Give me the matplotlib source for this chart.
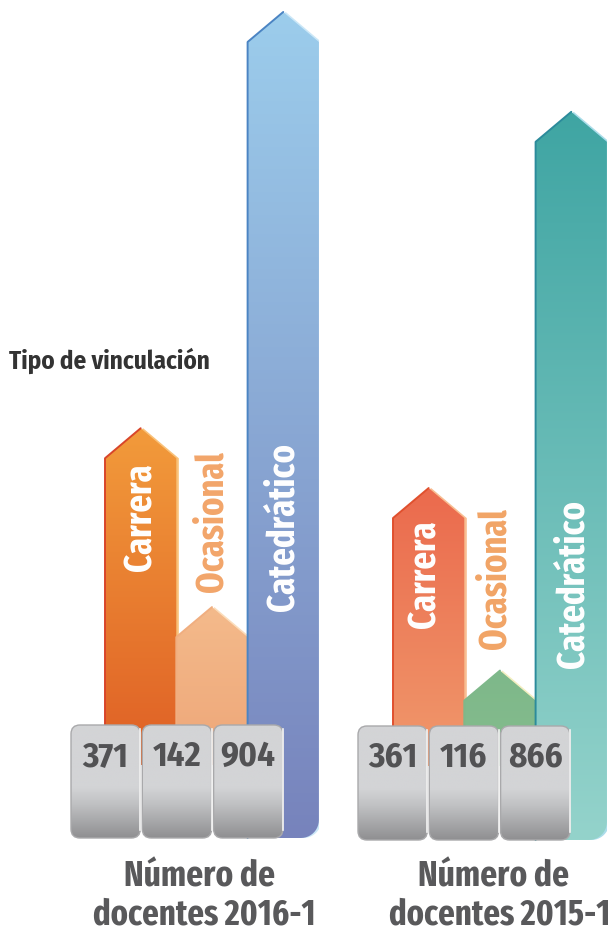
import numpy as np
import matplotlib
matplotlib.use("Agg")
import matplotlib.pyplot as plt
from matplotlib.patches import Polygon, FancyBboxPatch
from matplotlib.colors import LinearSegmentedColormap

# data
categories = ["Carrera", "Ocasional", "Catedrático"]
docentes_2016 = [371, 142, 904]
docentes_2015 = [361, 116, 866]
titles = ["Número de", "docentes 2016-1", "docentes 2015-1"]
legend_title = "Tipo de vinculación"

FONT = ["Fira Sans Extra Condensed", "DejaVu Sans"]
FONT_C = ["Fira Sans Condensed", "DejaVu Sans"]
W, H = 611, 933

fig = plt.figure(figsize=(W / 100, H / 100), dpi=100)

# overlay in pixel coords for tabs and texts
ov = fig.add_axes([0, 0, 1, 1], zorder=5)
ov.set_xlim(0, W)
ov.set_ylim(H, 0)
ov.axis("off")
ov.patch.set_alpha(0)


def grad(ax, patch, x0, x1, y0, y1, stops):
    # y0 = bottom, y1 = top; stops listed bottom -> top
    cmap = LinearSegmentedColormap.from_list("g", stops)
    im = ax.imshow(np.linspace(0, 1, 256).reshape(-1, 1), extent=[x0, x1, y0, y1],
                   origin="lower", cmap=cmap, aspect="auto", zorder=patch.get_zorder())
    im.set_clip_path(patch)


def panel(left_px, bw, base_px, scale, tab_top, tab_bot, values, styles):
    ax = fig.add_axes([(left_px - 0.5 * bw) / W, 0, 3.5 * bw / W, 1], zorder=1)
    ax.axis("off")
    ax.patch.set_alpha(0)
    px = lambda p: (base_px - p) / scale   # pixel row -> value
    head = 30 / scale
    for i, v in enumerate(values):
        st = styles[i]
        x0, x1 = i, i + 1
        if i == 2:
            # tall bar runs behind the tabs, rounded bottom-right corner
            ybot = px(tab_bot)
            rx, ry = 18 / bw, 18 / scale
            t = np.linspace(0, np.pi / 2, 12)
            pts = [(x0, ybot)]
            pts += [(x1 - rx + rx * np.sin(a), ybot + ry - ry * np.cos(a)) for a in t]
        else:
            ybot = px(tab_top + 40)
            pts = [(x0, ybot), (x1, ybot)]
        shoulder = v - head
        pts += [(x1, shoulder), (x0 + 0.5, v), (x0, shoulder)]
        hl = Polygon([(x + 2.5 / bw, y) for x, y in pts], closed=True, fc=st["hl"],
                     ec="none", zorder=2 + i)
        ax.add_patch(hl)
        poly = Polygon(pts, closed=True, fc="none", ec="none", zorder=2.1 + i)
        ax.add_patch(poly)
        grad(ax, poly, x0, x1, ybot, v, [st["bot"], st["top"]])
        ax.plot([x0, x0, x0 + 0.5], [ybot, shoulder, v], color=st["edge"], lw=1.4,
                zorder=2.2 + i, solid_capstyle="round")
    ax.set_xlim(-0.5, 3.0)
    ax.set_ylim((base_px - H) / scale, base_px / scale)
    return ax


styles_2016 = [
    dict(top="#F29B3B", bot="#DF5F25", edge="#D8452A", hl="#F9C27A"),
    dict(top="#F4BA8B", bot="#EEA678", edge="#F0AE80", hl="#FBDDBB"),
    dict(top="#9CCDEC", bot="#7783BC", edge="#4B84C3", hl="#CBE7F7"),
]
styles_2015 = [
    dict(top="#EB6A4D", bot="#F0996C", edge="#E0502E", hl="#F8BE92"),
    dict(top="#7EB88A", bot="#85BC8D", edge="#7EB88A", hl="#F3EEC0"),
    dict(top="#3FA5A3", bot="#94D3CB", edge="#2C8B9B", hl="#ABDDEA"),
]

panel(105, 71.3, 718, 0.781, 725, 838, docentes_2016, styles_2016)
panel(393, 71.3, 757, 0.745, 726, 840, docentes_2015, styles_2015)

# gray tabs holding the numbers
tab_stops = [(0, "#8f8f91"), (0.3, "#c0c1c3"), (0.45, "#d3d4d6"), (1, "#d3d4d6")]
cmap_tab = LinearSegmentedColormap.from_list("tab", tab_stops)
for tx, ttop, tbot, vals in [(70, 725, 838, docentes_2016), (357, 726, 840, docentes_2015)]:
    for i, v in enumerate(vals):
        x0 = tx + i * 71.3
        box = FancyBboxPatch((x0 + 1, ttop), 69.3, tbot - ttop,
                             boxstyle="round,pad=0,rounding_size=9",
                             fc="none", ec="#a9a9ab", lw=1.0, zorder=6)
        ov.add_patch(box)
        im = ov.imshow(np.linspace(0, 1, 256).reshape(-1, 1), extent=[x0 + 1, x0 + 70.3, tbot, ttop],
                       origin="lower", cmap=cmap_tab, aspect="auto", zorder=5.9)
        im.set_clip_path(box)
        ov.plot([x0 + 70.3, x0 + 70.3], [ttop + 4, tbot - 8], color="#f4f4f4", lw=1.2, zorder=6.1)
        ov.text(x0 + 35.5, 757, str(v), ha="center", va="center", fontsize=25,
                fontweight="bold", color="#525254", family=FONT_C, zorder=7)
ov.set_xlim(0, W)
ov.set_ylim(H, 0)

# bar labels
lab_2016 = [(141, 517, "white"), (212, 522, "#F2A56A"), (283, 527, "white")]
lab_2015 = [(425, 574, "white"), (495, 579, "#F1A466"), (573, 584, "white")]
for labs in (lab_2016, lab_2015):
    for (x, y, c), name in zip(labs, categories):
        ov.text(x, y, name, rotation=90, ha="center", va="center", fontsize=27,
                fontweight="bold", color=c, family=FONT, zorder=8)

ov.text(9, 361, legend_title, ha="left", va="center", fontsize=18, fontweight="bold",
        color="#333333", family=FONT_C, zorder=8)

for cx1, cx2, line2 in [(199, 204, titles[1]), (494, 500, titles[2])]:
    ov.text(cx1, 877, titles[0], ha="center", va="center", fontsize=26, fontweight="bold",
            color="#59595b", family=FONT, zorder=8)
    ov.text(cx2, 915, line2, ha="center", va="center", fontsize=25.5, fontweight="bold",
            color="#59595b", family=FONT, zorder=8)

fig.savefig("out.png", dpi=100, facecolor="white")
